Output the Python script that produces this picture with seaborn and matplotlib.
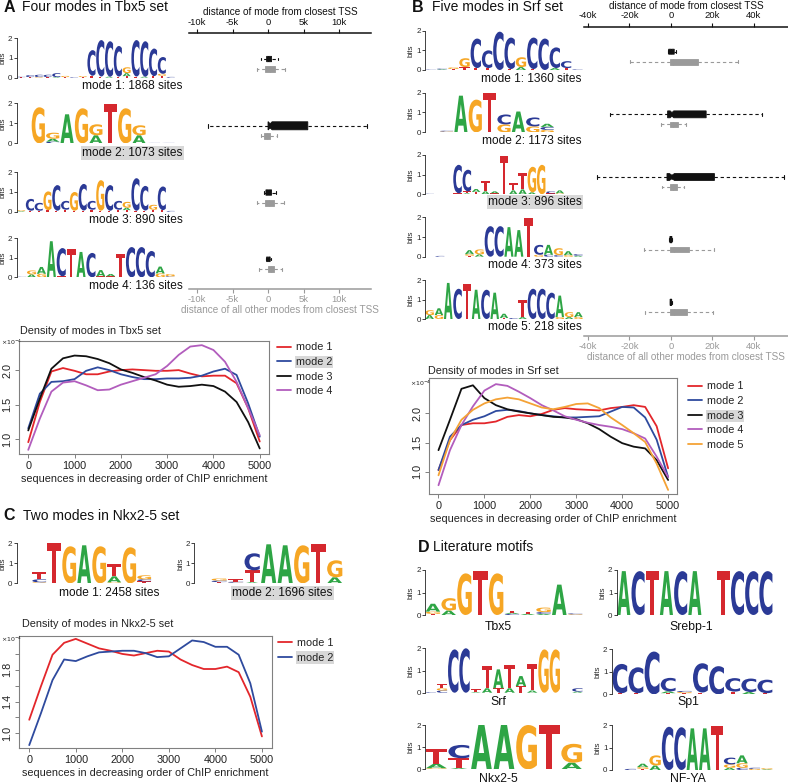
import numpy as np
import pandas as pd
import matplotlib
matplotlib.use("Agg")
import matplotlib.pyplot as plt
import matplotlib.transforms as mtransforms
from matplotlib.textpath import TextPath
from matplotlib.patches import PathPatch
from matplotlib.font_manager import FontProperties
import seaborn as sns

# ---------------------------------------------------------------- data
density_x = [0, 250, 500, 750, 1000, 1250, 1500, 1750, 2000, 2250, 2500,
             2750, 3000, 3250, 3500, 3750, 4000, 4250, 4500, 4750, 5000]

tbx5_mode1 = [0.96, 1.54, 1.98, 2.03, 1.99, 1.94, 1.94, 1.98, 2.00, 2.01, 2.00,
              1.99, 1.99, 2.00, 1.95, 1.91, 1.92, 1.92, 1.81, 1.45, 0.97]
tbx5_mode2 = [1.16, 1.66, 1.83, 1.84, 1.87, 1.99, 2.04, 2.00, 1.94, 1.90, 1.87,
              1.87, 1.88, 1.88, 1.89, 1.92, 1.98, 2.02, 1.93, 1.52, 1.04]
tbx5_mode3 = [1.13, 1.59, 2.02, 2.17, 2.21, 2.20, 2.16, 2.10, 2.01, 1.96, 1.90,
              1.85, 1.79, 1.76, 1.77, 1.79, 1.77, 1.69, 1.54, 1.25, 0.87]
tbx5_mode4 = [0.85, 1.30, 1.69, 1.82, 1.84, 1.78, 1.71, 1.72, 1.79, 1.84, 1.89,
              1.94, 2.06, 2.22, 2.34, 2.36, 2.29, 2.12, 1.83, 1.45, 1.06]

srf_mode1 = [1.03, 1.54, 1.80, 1.83, 1.83, 1.86, 1.94, 1.97, 1.95, 1.99, 2.06,
             2.09, 2.07, 2.06, 2.05, 2.09, 2.11, 2.14, 2.11, 1.78, 1.06]
srf_mode2 = [1.03, 1.60, 1.80, 1.89, 1.95, 2.04, 2.06, 2.04, 2.00, 1.97, 1.95,
             1.93, 1.93, 1.94, 1.95, 2.03, 2.11, 2.10, 1.93, 1.55, 0.91]
srf_mode3 = [1.37, 1.89, 2.42, 2.48, 2.26, 2.14, 2.07, 2.03, 2.00, 1.97, 1.94,
             1.93, 1.90, 1.83, 1.73, 1.60, 1.49, 1.43, 1.40, 1.20, 0.86]
srf_mode4 = [0.77, 1.37, 1.80, 2.12, 2.39, 2.50, 2.47, 2.37, 2.26, 2.14, 2.05,
             1.95, 1.89, 1.84, 1.80, 1.77, 1.73, 1.66, 1.57, 1.26, 0.91]
srf_mode5 = [0.94, 1.54, 1.89, 2.06, 2.17, 2.24, 2.27, 2.24, 2.17, 2.10, 2.07,
             2.11, 2.16, 2.17, 2.09, 1.93, 1.80, 1.66, 1.51, 1.14, 0.69]

nkx_mode1 = [1.17, 1.59, 1.99, 2.14, 2.19, 2.13, 2.07, 2.04, 2.00, 1.98, 2.01,
             2.04, 2.03, 1.93, 1.86, 1.81, 1.81, 1.84, 1.77, 1.46, 0.96]
nkx_mode2 = [0.85, 1.25, 1.67, 1.93, 1.91, 1.97, 2.02, 2.03, 2.04, 2.04, 2.01,
             1.96, 1.97, 2.07, 2.17, 2.15, 2.09, 2.09, 1.99, 1.63, 1.02]

tbx5_sites = [1868, 1073, 890, 136]
srf_sites = [1360, 1173, 896, 373, 218]
nkx_sites = [2458, 1696]

# boxplot stats: (whisker low, q1, median, q3, whisker high), in bp
tbx5_box_mode = [(-1000, -200, 100, 500, 1400),
                 (-8400, 0, 300, 5600, 13900),
                 (-600, -300, 100, 500, 1100),
                 (-300, -200, 0, 300, 400)]
tbx5_box_other = [(-1500, -400, 300, 1000, 2400),
                  (-1000, -500, -100, 300, 1200),
                  (-1500, -400, 200, 850, 2200),
                  (-1300, 0, 400, 800, 1900)]
srf_box_mode = [(-1600, -1100, 200, 1600, 2600),
                (-29200, -1600, 500, 17000, 43900),
                (-35700, -1900, 500, 21000, 54800),
                (-700, -500, 0, 500, 700),
                (-600, -400, 0, 400, 600)]
srf_box_other = [(-19900, -600, 1000, 12900, 32600),
                 (-4800, -600, 1000, 3200, 7200),
                 (-4300, -600, 1000, 2900, 6400),
                 (-13200, -600, 1500, 8500, 21000),
                 (-12700, -600, 1500, 8000, 20200)]

tbx5_ticks = [-10000, -5000, 0, 5000, 10000]
tbx5_ticklabels = ["-10k", "-5k", "0", "5k", "10k"]
srf_ticks = [-40000, -20000, 0, 20000, 40000]
srf_ticklabels = ["-40k", "-20k", "0", "20k", "40k"]

# sequence logos: one list per column of (letter, bits)
tbx5_logo_1 = [[('T', .02), ('C', .03)], [('T', .03), ('C', .10)], [('G', .03), ('C', .12)],
               [('T', .03), ('C', .12)], [('A', .03), ('C', .20)], [('T', .03), ('G', .06)],
               [('C', .03)], [('T', .03), ('G', .05)], [('T', .10), ('C', 1.30)],
               [('T', .06), ('C', 1.85)], [('A', .05), ('C', 1.80)], [('T', .06), ('C', 1.55)],
               [('T', .08), ('A', .15), ('G', .30)], [('T', .06), ('C', 1.85)],
               [('A', .05), ('C', 1.80)], [('T', .08), ('C', 1.40)],
               [('T', .10), ('G', .10), ('C', .85)], [('C', .04)]]
tbx5_logo_2 = [[], [('G', 1.80)], [('C', .08), ('A', .15), ('G', .30)], [('A', 1.45)],
               [('G', 1.75)], [('A', .40), ('G', .55)], [('T', 1.95)], [('G', 1.75)],
               [('A', .40), ('G', .50)], [('C', .02)], [('C', .02)]]
tbx5_logo_3 = [[('A', .03), ('G', .05)], [('T', .05), ('C', .60)], [('T', .05), ('C', .40)],
               [('T', .08), ('G', .95)], [('T', .05), ('C', 1.30)], [('T', .10), ('C', .45)],
               [('T', .05), ('G', .95)], [('T', .06), ('C', 1.35)], [('T', .10), ('C', .45)],
               [('T', .05), ('G', 1.55)], [('T', .05), ('C', 1.30)], [('T', .10), ('C', .45)],
               [('T', .08), ('A', .12), ('G', .30)], [('T', .05), ('C', 1.65)],
               [('T', .06), ('C', 1.25)], [('T', .10), ('G', .25)], [('T', .08), ('C', 1.20)],
               [('C', .04)]]
tbx5_logo_4 = [[('C', .03)], [('A', .15), ('G', .20)], [('G', .18), ('A', .35)], [('A', 1.85)],
               [('T', .05), ('C', 1.45)], [('T', 1.45)], [('A', 1.30)], [('C', 1.25)],
               [('T', .05), ('A', .32)], [('T', .05), ('A', .12)], [('T', 1.20)], [('C', 1.55)],
               [('C', 1.55)], [('C', 1.35)], [('G', .20), ('A', .35)], [('C', .05), ('G', .12)]]

srf_logo_1 = [[('C', .02)], [('A', .03), ('C', .04)], [('T', .05), ('G', .08)],
              [('T', .15), ('G', .45)], [('T', .10), ('C', 1.50)], [('T', .10), ('C', .90)],
              [('C', 1.95)], [('T', .05), ('C', 1.60)], [('A', .15), ('G', .50)],
              [('T', .05), ('C', 1.60)], [('C', 1.60)], [('A', .10), ('C', 1.05)],
              [('T', .10), ('C', .35)], [('C', .03)]]
srf_logo_2 = [[], [('G', .04), ('C', .04)], [('A', 1.85)], [('G', 1.65)], [('T', 2.0)],
              [('G', .40), ('C', .50)], [('A', 1.05)], [('G', .30), ('C', .45)],
              [('G', .12), ('C', .15), ('A', .16)], [], []]
srf_logo_3 = [[('C', .03)], [('T', .04)], [], [('T', .05), ('C', 1.45)],
              [('A', .05), ('T', .10), ('C', 1.10)], [('T', .12), ('A', .15)],
              [('A', .15), ('T', .55)], [('T', .05), ('A', .10)], [('T', 1.95)],
              [('A', .20), ('T', .35)], [('A', .25), ('T', .85)], [('A', .10), ('G', 1.30)],
              [('G', 1.50)], [('T', .05), ('C', .10)], [('G', .05), ('A', .15)], [], []]
srf_logo_4 = [[], [('C', .04)], [], [], [('T', .05), ('G', .08), ('A', .20)],
              [('A', .12), ('G', .25)], [('C', 1.55)], [('C', 1.55)], [('A', 1.50)],
              [('A', 1.35)], [('T', 1.95)], [('G', .10), ('C', .50)], [('C', .10), ('A', .50)],
              [('C', .08), ('G', .35)], [('G', .08), ('A', .20)], [('A', .05), ('C', .08)]]
srf_logo_5 = [[('A', .20), ('G', .25)], [('G', .20), ('A', .35)], [('A', 1.85)], [('C', 1.55)],
              [('T', 1.80)], [('A', 1.50)], [('C', 1.50)], [('A', 1.35)],
              [('T', .05), ('A', .22)], [('C', .05)], [('A', .10), ('T', .90)], [('C', 1.55)],
              [('C', 1.55)], [('C', 1.35)], [('G', .10), ('A', 1.10)], [('A', .10), ('G', .25)],
              [('G', .10), ('A', .25)]]

nkx_logo_1 = [[], [('G', .05), ('C', .15), ('T', .35)], [('T', 2.0)], [('G', 1.85)],
              [('A', 1.90)], [('G', 1.85)], [('G', .05), ('A', .30), ('T', .60)],
              [('G', 1.80)], [('T', .10), ('C', .10), ('G', .20)], []]
nkx_logo_2 = [[], [('T', .06), ('C', .08), ('G', .10)], [('G', .03), ('C', .05), ('T', .12)],
              [('A', .05), ('T', .60), ('C', .85)], [('A', 1.95)], [('A', 1.90)],
              [('G', 1.90)], [('T', 1.95)], [('A', .30), ('G', .85)]]

lit_tbx5 = [[('T', .05), ('G', .10), ('A', .35)], [('A', .20), ('G', .55)], [('G', 1.85)],
            [('T', 1.95)], [('G', 1.85)], [('C', .05), ('A', .05), ('T', .10)],
            [('A', .05), ('T', .10)], [('C', .08), ('A', .05), ('G', .20)], [('A', 1.35)],
            [('G', .03), ('C', .04)]]
lit_srebp = [[('A', 1.95)], [('C', 1.95)], [('T', 1.95)], [('A', 1.95)], [('C', 1.95)],
             [('A', 1.95)], [], [('T', 1.95)], [('C', 1.95)], [('C', 1.95)], [('C', 1.95)]]
lit_srf = [[('C', .03)], [('C', .10), ('G', .10), ('T', .20)], [('C', 1.95)], [('C', 2.0)],
           [('A', .03), ('T', .12)], [('A', .20), ('T', 1.00)], [('T', .20), ('A', .85)],
           [('A', .20), ('T', 1.05)], [('T', .30), ('A', .45)], [('A', .10), ('T', 1.20)],
           [('G', 1.95)], [('G', 1.95)], [], [('A', .05), ('C', .15)]]
lit_sp1 = [[('T', .05), ('C', 1.30)], [('T', .05), ('C', 1.15)], [('C', 1.90)],
           [('A', .08), ('T', .05), ('C', .60)], [('T', .05), ('G', .05), ('C', .05)],
           [('T', .08), ('C', 1.30)], [('C', 1.25)], [('T', .12), ('C', .60)],
           [('A', .10), ('C', .60)], [('T', .05), ('C', .60)]]
lit_nkx = [[('G', .05), ('A', .20), ('T', .65)], [('A', .05), ('T', .45), ('C', .60)],
           [('A', 2.0)], [('A', 2.0)], [('G', 2.0)], [('T', 2.0)], [('A', .30), ('G', .85)]]
lit_nfya = [[], [('C', .05)], [('T', .05), ('G', .08), ('A', .15)], [('A', .20), ('G', .45)],
            [('C', 1.92)], [('C', 1.90)], [('A', 1.85)], [('A', 1.85)], [('T', 1.95)],
            [('A', .10), ('G', .15), ('C', .30)], [('C', .10), ('G', .20), ('A', .35)],
            [('G', .05), ('C', .05)], [('A', .03), ('G', .05)]]

# ---------------------------------------------------------------- style
sns.set_theme(style="white")
plt.rcParams["font.family"] = ["Liberation Sans", "DejaVu Sans"]
plt.rcParams["mathtext.fontset"] = "dejavusans"

W, H = 788, 784
fig = plt.figure(figsize=(W / 100, H / 100), dpi=100)
fig.patch.set_facecolor("white")

LETTER_COL = {"A": "#2ea545", "C": "#2b3a96", "G": "#f6a624", "T": "#d5282e"}
LINE_COL = ["#e3262b", "#2e4a9e", "#111111", "#b25dbd", "#f4a236"]
GRAY = "#9a9a9a"
HL = "#d8d8d8"
FP = FontProperties(family="DejaVu Sans", weight="bold")
_glyphs = {}


def ax_px(x0, y0, x1, y1):
    return fig.add_axes([x0 / W, 1 - y1 / H, (x1 - x0) / W, (y1 - y0) / H])


def txt(x, y, s, **kw):
    return fig.text(x / W, 1 - y / H, s, **kw)


def draw_letter(ax, ch, x, y0, h, w=0.92):
    if ch not in _glyphs:
        _glyphs[ch] = TextPath((0, 0), ch, size=1, prop=FP)
    p = _glyphs[ch]
    bb = p.get_extents()
    t = (mtransforms.Affine2D().translate(-bb.x0, -bb.y0)
         .scale(w / bb.width, h / bb.height).translate(x - w / 2, y0))
    ax.add_patch(PathPatch(t.transform_path(p), facecolor=LETTER_COL[ch],
                           edgecolor="none", lw=0))


def logo(cols, xa, xb, ytop, ybot, label=None, lx=None, ly=None, ha="right",
         highlight=False, lsize=8.6):
    ax = ax_px(xa, ytop, xb, ybot)
    n = len(cols)
    ax.set_xlim(0.5, n + 0.5)
    ax.set_ylim(0, 2)
    for s in ["top", "right", "bottom"]:
        ax.spines[s].set_visible(False)
    ax.spines["left"].set_linewidth(0.6)
    ax.spines["left"].set_color("#222222")
    ax.set_xticks([])
    ax.set_yticks([0, 1, 2], ["0", "1", "2"])
    ax.tick_params(axis="y", length=2, width=0.6, pad=1, labelsize=5.8, left=True,
                   color="#222222")
    ax.set_ylabel("bits", fontsize=5.8, labelpad=1)
    ax.patch.set_alpha(0)
    ax.grid(False)
    for i, col in enumerate(cols, start=1):
        y = 0.0
        for ch, h in sorted(col, key=lambda t: t[1]):
            draw_letter(ax, ch, i, y, h)
            y += h
    if label is not None:
        t = txt(lx, ly, label, ha=ha, va="center", fontsize=lsize, color="#111111")
        if highlight:
            t.set_bbox(dict(facecolor=HL, edgecolor="none", pad=0.8))
    return ax


def density(box, xlim, ylim, series, yticks, ylabels, title, title_xy, exp_xy, leg_xy,
            highlight):
    ax = ax_px(*box)
    names = [f"mode {i + 1}" for i in range(len(series))]
    df = pd.concat([pd.DataFrame({"pos": density_x, "density": s, "mode": n})
                    for s, n in zip(series, names)], ignore_index=True)
    sns.lineplot(data=df, x="pos", y="density", hue="mode", hue_order=names,
                 palette=LINE_COL[:len(series)], estimator=None, lw=1.3, ax=ax)
    leg = ax.get_legend()
    handles = list(leg.legend_handles)
    labels = [t.get_text() for t in leg.get_texts()]
    leg.remove()
    ax.set_xlim(*xlim)
    ax.set_ylim(*ylim)
    ax.set_xticks([0, 1000, 2000, 3000, 4000, 5000])
    ax.set_yticks(yticks, ylabels, rotation=90, va="center")
    ax.tick_params(length=3, width=0.7, color="#808080", pad=2, labelsize=7.8,
                   bottom=True, left=True, labelcolor="#222222")
    for s in ax.spines.values():
        s.set_color("#808080")
        s.set_linewidth(0.8)
    ax.set_ylabel("")
    ax.set_xlabel("sequences in decreasing order of ChIP enrichment", fontsize=7.8,
                  labelpad=2, color="#222222")
    ax.grid(False)
    txt(*title_xy, title, ha="left", va="center", fontsize=7.8, color="#222222")
    txt(*exp_xy, r"$\times10^{-4}$", ha="left", va="center", fontsize=4.5,
        color="#222222")
    lg = ax.legend(handles, labels, loc="upper left",
                   bbox_to_anchor=(leg_xy[0] / W, 1 - leg_xy[1] / H),
                   bbox_transform=fig.transFigure, frameon=False, fontsize=7.8,
                   handlelength=1.3, handletextpad=0.45, labelspacing=0.42,
                   borderpad=0, borderaxespad=0)
    for h in lg.legend_handles:
        h.set_linewidth(1.3)
    for t in lg.get_texts():
        t.set_color("#222222")
    lg.get_texts()[highlight].set_bbox(dict(facecolor=HL, edgecolor="none", pad=0.8))
    return ax


def boxes(box, xlim, ylim, ticks, ticklabels, mode_stats, other_stats, sites, off,
          wblack, wgray):
    ax = ax_px(*box)
    ax.set_xlim(*xlim)
    ax.set_ylim(*ylim)
    ax.patch.set_alpha(0)
    ax.grid(False)
    for s in ["top", "left", "right"]:
        ax.spines[s].set_visible(False)
    ax.spines["bottom"].set_color(GRAY)
    ax.spines["bottom"].set_linewidth(1.1)
    ax.set_yticks([])
    ax.set_xticks(ticks, ticklabels)
    ax.tick_params(axis="x", colors=GRAY, length=3, width=0.8, pad=1.5, labelsize=6.8,
                   direction="out", bottom=True)
    ax.set_xlabel("distance of all other modes from closest TSS", fontsize=7.2,
                  color=GRAY, labelpad=0.5)
    top = ax.twiny()
    top.set_xlim(*xlim)
    for s in ["bottom", "left", "right"]:
        top.spines[s].set_visible(False)
    top.spines["top"].set_color("#111111")
    top.spines["top"].set_linewidth(1.1)
    top.set_xticks(ticks, ticklabels)
    top.tick_params(axis="x", colors="#111111", length=3, width=0.8, pad=1.5,
                    labelsize=6.8, direction="out", top=True)
    top.set_xlabel("distance of mode from closest TSS", fontsize=7.2, color="#111111",
                   labelpad=2)
    top.grid(False)

    def stats(rows, ns=None):
        out = []
        for k, (lo, q1, md, q3, hi) in enumerate(rows):
            d = dict(whislo=lo, q1=q1, med=md, q3=q3, whishi=hi, fliers=[])
            if ns is not None:
                half = 1.58 * (q3 - q1) / np.sqrt(ns[k])
                d["cilo"], d["cihi"] = md - half, md + half
            out.append(d)
        return out

    n = len(mode_stats)
    for rows, col, pos, widths, notch, ns in [
            (mode_stats, "#111111", [i - off for i in range(n)], wblack, True, sites),
            (other_stats, GRAY, [i + off for i in range(n)], [wgray] * n, False, None)]:
        kw = dict(positions=pos, widths=widths, capwidths=[w * 0.5 for w in widths],
                  patch_artist=True, shownotches=notch, showfliers=False,
                  manage_ticks=False,
                  boxprops=dict(facecolor=col, edgecolor=col, lw=0.6),
                  whiskerprops=dict(color=col, lw=0.8, linestyle=(0, (3, 2.5))),
                  capprops=dict(color=col, lw=0.8),
                  medianprops=dict(color=col, lw=1.0))
        try:
            ax.bxp(stats(rows, ns), orientation="horizontal", **kw)
        except TypeError:
            ax.bxp(stats(rows, ns), vert=False, **kw)
    return ax


# ---------------------------------------------------------------- panel titles
for letter, lx, text, tx, ty in [("A", 4, "Four modes in Tbx5 set", 21.7, 7),
                                 ("B", 411.7, "Five modes in Srf set", 431.7, 7),
                                 ("C", 3.3, "Two modes in Nkx2-5 set", 23.3, 516),
                                 ("D", 418, "Literature motifs", 433.3, 547.3)]:
    txt(lx, ty, letter, ha="left", va="center", fontsize=11.5, fontweight="bold",
        color="#111111")
    txt(tx, ty, text, ha="left", va="center", fontsize=10, color="#111111")

# ---------------------------------------------------------------- panel A
tbx5_logos = [tbx5_logo_1, tbx5_logo_2, tbx5_logo_3, tbx5_logo_4]
tbx5_rows = [(38.3, 77.7, 86.3), (103.3, 143.3, 152.7), (172.3, 211.7, 220),
             (238.3, 277.3, 286)]
for k, (lg, (yt, yb, ly)) in enumerate(zip(tbx5_logos, tbx5_rows)):
    logo(lg, 16.7, 175, yt, yb, f"mode {k + 1}: {tbx5_sites[k]} sites", 182.7, ly,
         highlight=(k == 1))

boxes((189, 33, 371, 289), (-11130, 14500), (3.37, -0.465), tbx5_ticks, tbx5_ticklabels,
      tbx5_box_mode, tbx5_box_other, tbx5_sites, 0.075, [0.08, 0.12, 0.08, 0.07], 0.09)

density((19, 341, 269, 454), (-200, 5200), (0.79, 2.42),
        [tbx5_mode1, tbx5_mode2, tbx5_mode3, tbx5_mode4],
        [1.0, 1.5, 2.0], ["1.0", "1.5", "2.0"], "Density of modes in Tbx5 set",
        (20, 331), (1, 342), (277, 342.5), 1)

# ---------------------------------------------------------------- panel B
srf_logos = [srf_logo_1, srf_logo_2, srf_logo_3, srf_logo_4, srf_logo_5]
srf_rows = [(30.7, 70, 79), (92.7, 132.3, 140.7), (155, 194.3, 202.3),
            (217.3, 256.7, 265), (280, 319, 327.3)]
for k, (lg, (yt, yb, ly)) in enumerate(zip(srf_logos, srf_rows)):
    logo(lg, 425, 583, yt, yb, f"mode {k + 1}: {srf_sites[k]} sites", 581.7, ly,
         highlight=(k == 2))

boxes((584.3, 26.7, 788, 336), (-41800, 56500), (4.458, -0.479), srf_ticks,
      srf_ticklabels, srf_box_mode, srf_box_other, srf_sites, 0.08,
      [0.08, 0.11, 0.11, 0.1, 0.1], 0.09)

density((429.3, 377.7, 677.3, 494), (-200, 5200), (0.62, 2.61),
        [srf_mode1, srf_mode2, srf_mode3, srf_mode4, srf_mode5],
        [1.0, 1.5, 2.0], ["1.0", "1.5", "2.0"], "Density of modes in Srf set",
        (428, 370.7), (410, 383), (687.7, 381.5), 2)

# ---------------------------------------------------------------- panel C
logo(nkx_logo_1, 16.7, 166.7, 543.3, 583.3, f"mode 1: {nkx_sites[0]} sites", 109,
     592.7, ha="center")
logo(nkx_logo_2, 194.3, 343, 543.3, 583.3, f"mode 2: {nkx_sites[1]} sites", 282.5,
     592.7, ha="center", highlight=True)

density((19, 635.7, 271.7, 748.3), (-220, 5210), (0.81, 2.23),
        [nkx_mode1, nkx_mode2],
        [1.0, 1.2, 1.4, 1.6, 1.8, 2.0], ["1.0", "", "1.4", "", "1.8", ""],
        "Density of modes in Nkx2-5 set", (21.7, 624), (1, 639), (278, 638), 1)

# ---------------------------------------------------------------- panel D
logo(lit_tbx5, 425, 583, 570, 615, "Tbx5", 498.3, 626.7, ha="center", lsize=8.8)
logo(lit_srebp, 616.7, 773, 570, 615, "Srebp-1", 691.7, 626.7, ha="center", lsize=8.8)
logo(lit_srf, 425, 583, 648.3, 692.7, "Srf", 498, 701.7, ha="center", lsize=8.8)
logo(lit_sp1, 611.7, 773, 649.3, 694.3, "Sp1", 688.3, 701.7, ha="center", lsize=8.8)
logo(lit_nkx, 425, 583, 725, 769.3, "Nkx2-5", 498, 779, ha="center", lsize=8.8)
logo(lit_nfya, 611.7, 773, 725, 770, "NF-YA", 688.3, 779, ha="center", lsize=8.8)

fig.savefig("out.png", dpi=100, facecolor="white")
